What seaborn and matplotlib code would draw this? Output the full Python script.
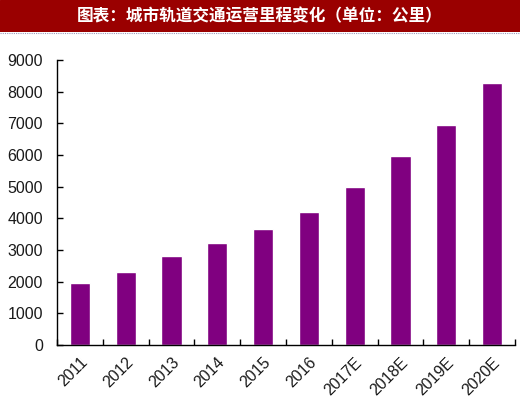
import matplotlib
matplotlib.use("Agg")
import matplotlib.pyplot as plt
import seaborn as sns
import pandas as pd
import numpy as np
from matplotlib.ticker import FixedLocator

years = ["2011", "2012", "2013", "2014", "2015", "2016", "2017E", "2018E", "2019E", "2020E"]
mileage = [1950, 2310, 2820, 3210, 3650, 4190, 5000, 5980, 6960, 8260]
yticks = [0, 1000, 2000, 3000, 4000, 5000, 6000, 7000, 8000, 9000]
title = "图表：城市轨道交通运营里程变化（单位：公里）"

sns.set_theme(style="white")
plt.rcParams['font.family'] = ['Liberation Sans', 'DejaVu Sans']

df = pd.DataFrame({"year": years, "km": mileage})

fig = plt.figure(figsize=(5.2, 3.99), dpi=100)
ax = fig.add_axes([57/520, 1 - 345/399, (515 - 57)/520, (345 - 60)/399])

sns.barplot(data=df, x="year", y="km", color="#800080", saturation=1, width=0.44, ax=ax)

ax.set_ylim(0, 9000)
ax.set_xlim(-0.5, len(years) - 0.5)
ax.set_yticks(yticks)
ax.set_yticklabels([str(v) for v in yticks], fontsize=11.5, color="#1a1a1a")
ax.set_xlabel("")
ax.set_ylabel("")
ax.set_xticks(range(len(years)))
ax.set_xticklabels(years, rotation=45, ha="right", rotation_mode="anchor", fontsize=11.5, color="#1a1a1a")
ax.xaxis.set_minor_locator(FixedLocator(np.arange(-0.5, len(years), 1.0)))
ax.tick_params(axis="x", which="major", length=0, pad=7)
ax.tick_params(axis="x", which="minor", direction="in", length=4, width=1, color="black", bottom=True)
ax.tick_params(axis="y", which="major", direction="in", length=4, width=1, color="black", left=True, pad=10)
for s in ["top", "right"]:
    ax.spines[s].set_visible(False)
for s in ["left", "bottom"]:
    ax.spines[s].set_color("black")
    ax.spines[s].set_linewidth(1)

# Title band
band = fig.add_axes([0, 1 - 32/399, 1, 32/399])
band.set_axis_off()
band.add_patch(plt.Rectangle((0, 0), 1, 1, color="#9a0000", transform=band.transAxes))
band.text(0.5, 0.5, title, color="white", fontsize=12, fontweight="bold",
          ha="center", va="center", family=['Noto Sans CJK SC', 'DejaVu Sans'],
          transform=band.transAxes)
fig.add_artist(plt.Line2D([0, 1], [1 - 33/399, 1 - 33/399], color="#9999bb", lw=0.8,
                          linestyle=(0, (1, 1)), transform=fig.transFigure))

fig.savefig("out.png", dpi=100)
